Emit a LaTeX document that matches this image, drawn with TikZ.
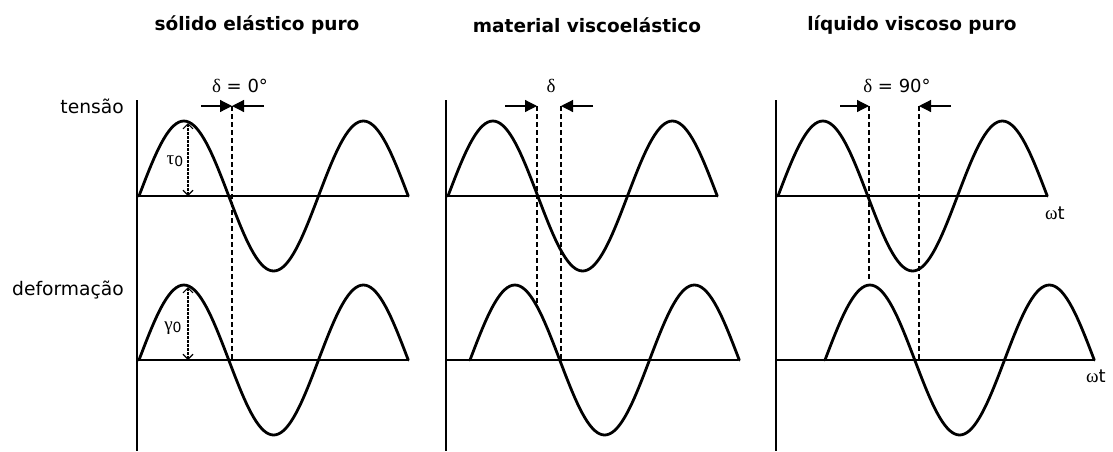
\documentclass[tikz,border=0pt]{standalone}
\usepackage{fontspec}
\setmainfont{DejaVu Sans}
\newfontfamily\grk{Liberation Serif}
\usetikzlibrary{arrows.meta}
\newcommand\sinewave[2]{%
  \draw[wave] plot[domain=0:540,samples=109] ({#1+\x/360*179.5},{#2-75*sin(\x)});}
\begin{document}
\begin{tikzpicture}[x=1pt,y=-1pt,
  wave/.style={line width=2.8pt,line join=round,line cap=round},
  axisline/.style={line width=1.3pt},
  guide/.style={line width=1.2pt,dash pattern=on 5pt off 3pt},
  amp/.style={line width=1.1pt,dash pattern=on 2.5pt off 1.5pt,
    {Straight Barb[length=5pt,width=10pt]}-{Straight Barb[length=5pt,width=10pt]}},
  shiftarrow/.style={line width=1.2pt,-{Triangle[length=12pt,width=12pt]}},
  ttl/.style={font=\bfseries\fontsize{18.5}{20}\selectfont,inner sep=0pt},
  lbl/.style={font=\fontsize{18.7}{20}\selectfont,inner sep=0pt},
  glbl/.style={font=\fontsize{18}{20}\selectfont,inner sep=0pt},
  gsym/.style={font=\grk\fontsize{19}{20}\selectfont,inner sep=0pt}]
\useasboundingbox (0,0) rectangle (1113,451);

% titles
\node[ttl] (t1) at (257,25) {sólido elástico puro};
\node[ttl] (t2) at (587,25) {material viscoelástico};
\node[ttl] (t3) at (912,25) {líquido viscoso puro};

% row labels
\node[lbl,anchor=east] (ltens) at (124,106) {tensão};
\node[lbl,anchor=east] (ldef) at (124,290) {deformação};

% ---------- panel 1 ----------
\coordinate (a1t) at (137,100); \coordinate (a1b) at (137,451);
\draw[axisline] (a1t) -- (a1b);
\coordinate (h1a) at (137,196); \coordinate (h1b) at (409,196);
\coordinate (h1c) at (137,360); \coordinate (h1d) at (409,360);
\draw[axisline] (h1a) -- (h1b);
\draw[axisline] (h1c) -- (h1d);
\sinewave{139}{196}
\sinewave{139}{360}
\coordinate (d1a) at (232,106); \coordinate (d1b) at (232,360);
\draw[guide] (d1a) -- (d1b);
\coordinate (s1l) at (201,106); \coordinate (s1r) at (264,106);
\draw[shiftarrow] (s1l) -- (d1a);
\draw[shiftarrow] (s1r) -- (d1a);
\node[glbl] (del1) at (240,86) {{\grk\fontsize{19}{20}\selectfont δ} = 0°};
\coordinate (p1t) at (188,123); \coordinate (p1tz) at (188,196);
\draw[amp] (p1t) -- (p1tz);
\node[gsym] (tau) at (175,161) {τ\raisebox{-0.25ex}{\fontspec{DejaVu Sans}\fontsize{14}{15}\selectfont 0}};
\coordinate (p1b) at (188,287); \coordinate (p1bz) at (188,360);
\draw[amp] (p1b) -- (p1bz);
\node[gsym] (gam) at (173,328) {γ\raisebox{-0.25ex}{\fontspec{DejaVu Sans}\fontsize{14}{15}\selectfont 0}};

% ---------- panel 2 ----------
\coordinate (a2t) at (446,100); \coordinate (a2b) at (446,451);
\draw[axisline] (a2t) -- (a2b);
\coordinate (h2a) at (446,196); \coordinate (h2b) at (718,196);
\coordinate (h2c) at (446,360); \coordinate (h2d) at (738,360);
\draw[axisline] (h2a) -- (h2b);
\draw[axisline] (h2c) -- (h2d);
\sinewave{448}{196}
\sinewave{470}{360}
\coordinate (d2a) at (537,106); \coordinate (d2b) at (537,303);
\coordinate (d2c) at (561,106); \coordinate (d2d) at (561,360);
\draw[guide] (d2a) -- (d2b);
\draw[guide] (d2c) -- (d2d);
\coordinate (s2l) at (505,106); \coordinate (s2r) at (593,106);
\draw[shiftarrow] (s2l) -- (d2a);
\draw[shiftarrow] (s2r) -- (d2c);
\node[gsym] (del2) at (551,86) {δ};

% ---------- panel 3 ----------
\coordinate (a3t) at (776,100); \coordinate (a3b) at (776,451);
\draw[axisline] (a3t) -- (a3b);
\coordinate (h3a) at (776,196); \coordinate (h3b) at (1047,196);
\coordinate (h3c) at (776,360); \coordinate (h3d) at (1094,360);
\draw[axisline] (h3a) -- (h3b);
\draw[axisline] (h3c) -- (h3d);
\sinewave{778}{196}
\sinewave{825}{360}
\coordinate (d3a) at (869,106); \coordinate (d3b) at (869,280);
\coordinate (d3c) at (919,106); \coordinate (d3d) at (919,360);
\draw[guide] (d3a) -- (d3b);
\draw[guide] (d3c) -- (d3d);
\coordinate (s3l) at (840,106); \coordinate (s3r) at (951,106);
\draw[shiftarrow] (s3l) -- (d3a);
\draw[shiftarrow] (s3r) -- (d3c);
\node[glbl] (del3) at (897,86) {{\grk\fontsize{19}{20}\selectfont δ} = 90°};
\node[glbl] (wt1) at (1055,213) {{\grk\fontsize{19}{20}\selectfont ω}t};
\node[glbl] (wt2) at (1096,376) {{\grk\fontsize{19}{20}\selectfont ω}t};
\end{tikzpicture}
\end{document}
